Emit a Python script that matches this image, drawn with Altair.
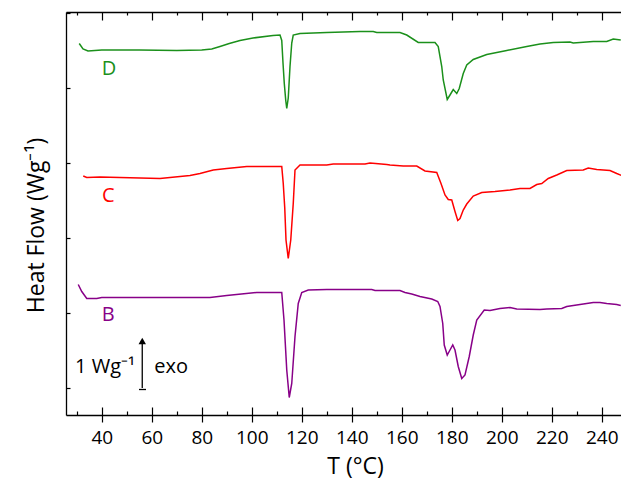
import altair as alt
import pandas as pd

FONT = "Open Sans"

# ---- data (T in °C, heat flow in W/g, offset per curve) ----
T_D = [31.0, 32.5, 34.5, 40, 55, 70, 80, 84, 87.3, 91, 95.3, 100.5, 108.5, 111.3, 112.0, 112.5, 113.0, 113.6,
       114.0, 114.6, 115.3, 116.0, 116.6, 119.3, 130, 143.3, 148.6, 150, 159.3, 162, 166.6, 173.3, 174.6, 176,
       176.6, 178.2, 179.3, 180.6, 182, 183, 184.6, 186, 188.6, 194, 202, 210, 215.3, 220.6, 227.3, 228.6,
       236.6, 242, 244.6, 247.6]
HF_D = [6.89, 6.78, 6.74, 6.76, 6.76, 6.75, 6.76, 6.78, 6.83, 6.89, 6.95, 7.00, 7.05, 7.06, 6.95, 6.5, 6.1, 5.75,
        5.59, 5.8, 6.43, 6.9, 7.06, 7.09, 7.11, 7.13, 7.13, 7.11, 7.11, 7.06, 6.91, 6.91, 6.83, 6.43,
        6.16, 5.77, 5.86, 5.97, 5.89, 5.99, 6.29, 6.46, 6.57, 6.67, 6.75, 6.83, 6.88, 6.91, 6.92, 6.90,
        6.93, 6.93, 6.98, 6.96]

T_C = [32.6, 34, 39.3, 63.3, 75.3, 79.3, 84.6, 90, 98, 112, 112.6, 113.2, 113.7, 114.6, 115.6, 116.6, 117.3,
       119.3, 130, 132.6, 143.3, 145.3, 147.3, 154, 155.3, 160.6, 166, 169.3, 174, 175.7, 177.3, 178.6, 180,
       181.3, 182.4, 183.3, 184.6, 186, 188.6, 192, 197.3, 203.3, 207.3, 211.3, 214, 216, 218.6, 222, 226,
       232.6, 234.6, 238, 243.3, 246, 248.4]
HF_C = [4.24, 4.21, 4.22, 4.19, 4.25, 4.29, 4.36, 4.39, 4.43, 4.43, 4.09, 3.6, 2.96, 2.59, 2.96, 3.69, 4.36,
        4.46, 4.46, 4.48, 4.48, 4.48, 4.50, 4.47, 4.46, 4.44, 4.44, 4.34, 4.31, 4.09, 3.86, 3.77, 3.76,
        3.53, 3.35, 3.39, 3.56, 3.68, 3.84, 3.91, 3.93, 3.96, 3.99, 3.99, 4.07, 4.09, 4.19, 4.26, 4.35,
        4.36, 4.40, 4.37, 4.35, 4.29, 4.24]

T_B = [30.6, 32, 34, 38, 40, 83.3, 90, 102, 112, 112.9, 114, 115, 116, 117.3, 118.6, 120, 122.6, 130, 143.3,
       148, 149.3, 159.3, 161.3, 164, 167.3, 172, 174.4, 175.3, 176.4, 177, 178.2, 179.3, 180.4, 181.3, 182.6,
       184, 185.3, 187, 188.6, 190, 193, 195.3, 199.3, 203.3, 206, 215.3, 218, 224, 226, 231.3, 236.6,
       239.3, 242, 246, 247.6]
HF_B = [2.07, 1.93, 1.79, 1.79, 1.81, 1.81, 1.85, 1.91, 1.91, 1.36, 0.36, -0.19, 0.09, 1.03, 1.69, 1.91, 1.96,
        1.97, 1.97, 1.97, 1.95, 1.95, 1.91, 1.88, 1.83, 1.78, 1.73, 1.63, 1.29, 0.86, 0.66, 0.76, 0.86, 0.76,
        0.43, 0.19, 0.26, 0.63, 1.06, 1.36, 1.56, 1.55, 1.59, 1.61, 1.58, 1.57, 1.58, 1.59, 1.63, 1.67,
        1.71, 1.71, 1.69, 1.67, 1.65]

SAMPLES = ["D", "C", "B"]
COLORS = ["#1b901b", "#ff0000", "#880088"]
LABEL_T = [42.9, 42.6, 42.6]
LABEL_HF = [6.39, 3.84, 1.47]

X_MAJOR = [40, 60, 80, 100, 120, 140, 160, 180, 200, 220, 240]
X_MINOR = [30, 50, 70, 90, 110, 130, 150, 170, 190, 210, 230]
Y_TICKS = [0, 1.5, 3, 4.5, 6, 7.5]
X_DOMAIN = [25.7, 247.7]
Y_DOMAIN = [-0.54, 7.52]

# scale bar: 1 W/g
BAR_T = [56.2]
BAR_Y0 = [0.0]
BAR_Y1 = [0.9]
BAR_HEAD = [0.94]
FOOT_T0 = [54.9]
FOOT_T1 = [57.7]
FOOT_Y = [-0.03]
SCALE_TXT = ["1 Wg⁻¹", "exo"]
SCALE_TXT_T = [53.3, 61.0]
SCALE_TXT_Y = [0.294, 0.294]

rows = []
for s, T, H in (("D", T_D, HF_D), ("C", T_C, HF_C), ("B", T_B, HF_B)):
    for t, h in zip(T, H):
        rows.append({"T": t, "HF": h, "sample": s})
df = pd.DataFrame(rows)
lab_df = pd.DataFrame({"T": LABEL_T, "HF": LABEL_HF, "sample": SAMPLES})
bar_df = pd.DataFrame({"T": BAR_T, "y0": BAR_Y0, "y1": BAR_Y1, "head": BAR_HEAD})
foot_df = pd.DataFrame({"t0": FOOT_T0, "t1": FOOT_T1, "y": FOOT_Y})
txt1_df = pd.DataFrame({"T": SCALE_TXT_T[:1], "y": SCALE_TXT_Y[:1], "txt": SCALE_TXT[:1]})
txt2_df = pd.DataFrame({"T": SCALE_TXT_T[1:], "y": SCALE_TXT_Y[1:], "txt": SCALE_TXT[1:]})

xs = alt.Scale(domain=X_DOMAIN, nice=False, zero=False)
ys = alt.Scale(domain=Y_DOMAIN, nice=False, zero=False)
cs = alt.Scale(domain=SAMPLES, range=COLORS)


def tick_axis(orient, values, offset, size):
    return alt.Axis(orient=orient, values=values, offset=offset, tickSize=size, domain=False,
                    labels=False, title=None, grid=False, ticks=True, tickColor="black", tickWidth=1.2)


curves = alt.Chart(df).mark_line(strokeWidth=1.5, clip=True).encode(
    x=alt.X("T:Q", scale=xs, axis=alt.Axis(
        orient="bottom", values=X_MAJOR, format="d", grid=False, domain=True, domainColor="black",
        domainWidth=1.3, ticks=True, tickSize=7, tickColor="black", tickWidth=1.2,
        labelFont=FONT, labelFontSize=19, labelColor="black", labelPadding=6,
        title="T (°C)", titleFont=FONT, titleFontSize=23, titleFontWeight="normal", titleColor="black",
        titleX=289, titleY=58, titleBaseline="alphabetic", titleAlign="center")),
    y=alt.Y("HF:Q", scale=ys, axis=alt.Axis(
        orient="left", grid=False, domain=True, domainColor="black", domainWidth=1.3, ticks=False,
        labels=False, title="Heat Flow (Wg⁻¹)", titleFont=FONT, titleFontSize=23,
        titleFontWeight="normal", titleColor="black", titleX=-23, titleY=213,
        titleBaseline="alphabetic", titleAlign="center", titleAngle=270)),
    color=alt.Color("sample:N", scale=cs, legend=None),
    detail="sample:N",
)

labels = alt.Chart(lab_df).mark_text(font=FONT, fontSize=20, baseline="middle", align="center").encode(
    x=alt.X("T:Q", scale=xs, axis=tick_axis("bottom", X_MAJOR, -8, 8)),
    y=alt.Y("HF:Q", scale=ys, axis=tick_axis("left", Y_TICKS, -4, 4)),
    text="sample:N",
    color=alt.Color("sample:N", scale=cs, legend=None),
)

bar = alt.Chart(bar_df).mark_rule(color="black", strokeWidth=1.3).encode(
    x=alt.X("T:Q", scale=xs, axis=tick_axis("bottom", X_MINOR, -4, 4)),
    y=alt.Y("y0:Q", scale=ys, axis=None),
    y2="y1:Q",
)

foot = alt.Chart(foot_df).mark_rule(color="black", strokeWidth=1.3).encode(
    x=alt.X("t0:Q", scale=xs, axis=alt.Axis(orient="top", domain=True, domainColor="black",
                                            domainWidth=1.3, ticks=False, labels=False, title=None,
                                            grid=False)),
    x2="t1:Q",
    y=alt.Y("y:Q", scale=ys, axis=None),
)

head = alt.Chart(bar_df).mark_point(shape="triangle-up", filled=True, size=55, color="black",
                                    opacity=1).encode(
    x=alt.X("T:Q", scale=xs, axis=tick_axis("top", X_MAJOR, -8, 8)),
    y=alt.Y("head:Q", scale=ys, axis=None),
)

txt1 = alt.Chart(txt1_df).mark_text(font=FONT, fontSize=20, align="right", baseline="alphabetic",
                                    color="black").encode(
    x=alt.X("T:Q", scale=xs, axis=tick_axis("top", X_MINOR, -3, 3)),
    y=alt.Y("y:Q", scale=ys, axis=None),
    text="txt:N",
)

txt2 = alt.Chart(txt2_df).mark_text(font=FONT, fontSize=20, align="left", baseline="alphabetic",
                                    color="black").encode(
    x=alt.X("T:Q", scale=xs, axis=None),
    y=alt.Y("y:Q", scale=ys, axis=None),
    text="txt:N",
)

chart = alt.layer(curves, labels, bar, foot, head, txt1, txt2).resolve_axis(
    x="independent", y="independent"
).properties(
    width=555, height=403,
    padding={"left": 58, "top": 4, "right": 0, "bottom": 64},
    autosize="none",
).configure_view(stroke=None).configure(background="white")

chart.save("out.html", embed_options={"renderer": "svg", "actions": False})
